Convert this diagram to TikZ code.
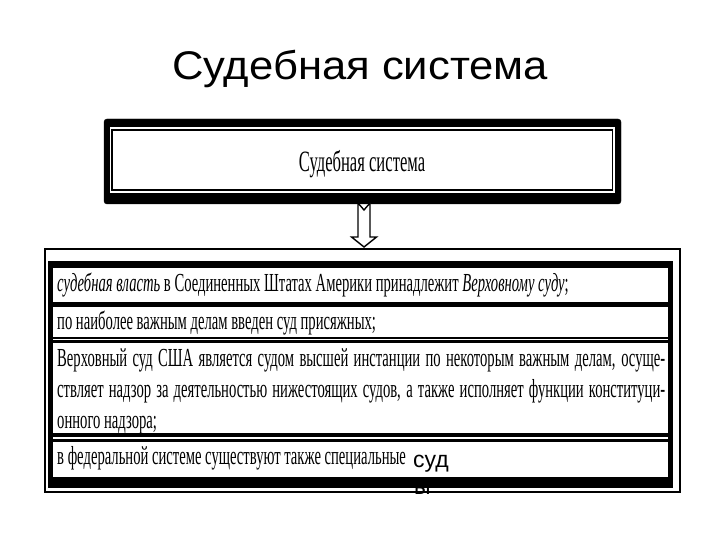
\documentclass[tikz,border=0pt]{standalone}
\usepackage{fontspec}
\newfontfamily\titlefont[FakeStretch=1.09]{Liberation Sans}
\newfontfamily\sansfont{Liberation Sans}
\newfontfamily\narrowfont[FakeStretch=0.563]{Liberation Serif}
\usepackage{tikz}
\usetikzlibrary{calc}
\tikzset{
  rowtext/.style={anchor=base west, inner sep=0pt, font=\narrowfont\fontsize{26}{31}\selectfont},
  sanstext/.style={anchor=base west, inner sep=0pt, font=\sansfont\fontsize{23}{27}\selectfont},
}

\begin{document}
\begin{tikzpicture}[x=1pt,y=-1pt]
    \useasboundingbox (0,0) rectangle (720,540);
    % Title
    \node[anchor=base, inner sep=0pt, font=\titlefont\fontsize{40}{48}\selectfont] (title) at (360,80) {Судебная система};
    % Header box
    \draw[fill=black, rounded corners=3pt] (104,119) rectangle (621,204);
    \fill[white] (110,127) rectangle (615,193);
    \draw[line width=1.2pt] (112,130) rectangle (612.5,190);
    \node[anchor=base, inner sep=0pt, font=\narrowfont\fontsize{29.5}{36}\selectfont] (head) at (362,172) {Судебная система};
    % Hollow arrow
    \coordinate (hbot) at (364,203);
    \coordinate (ftip) at (364,247);
    \draw[fill=white, line width=1.4pt] ($(hbot)+(-6,0)$) -- ($(hbot)+(0,7)$) -- ($(hbot)+(6,0)$)
        -- ($(ftip)+(6,-10)$) -- ($(ftip)+(12.5,-10)$) -- (ftip) -- ($(ftip)+(-12.5,-10)$) -- ($(ftip)+(-6,-10)$) -- cycle;
    % Frame with rows
    \draw[line width=1.6pt] (45,249) rectangle (680,492);
    \fill[black] (48,261) rectangle (673,488);
    \foreach \top/\bot in {268/302, 307/337, 343/433, 442/477}
        \fill[white] (53,\top) rectangle (668,\bot);
    \draw[white, line width=1pt] (53,339.5) -- (668,339.5);
    \draw[white, line width=1.6pt] (53,437.8) -- (668,437.8);
    \node[rowtext] (r1) at (57,291) {\textit{судебная власть} в Соединенных Штатах Америки принадлежит \textit{Верховному суду};};
    \node[rowtext] (r2) at (57,329) {по наиболее важным делам введен суд присяжных;};
    \node[rowtext] (r3a) at (57,366) {\makebox[608pt][s]{Верховный суд США является судом высшей инстанции по некоторым важным делам, осуще-}};
    \node[rowtext] (r3b) at (57,397) {\makebox[608pt][s]{ствляет надзор за деятельностью нижестоящих судов, а также исполняет функции конституци-}};
    \node[rowtext] (r3c) at (57,428) {онного надзора;};
    \node[rowtext] (r4) at (57,464) {в федеральной системе существуют также специальные};
    \node[sanstext] (sud) at (413,467) {суд};
    \node[sanstext] (sudy) at (414,494) {ы};
\end{tikzpicture}
\end{document}
